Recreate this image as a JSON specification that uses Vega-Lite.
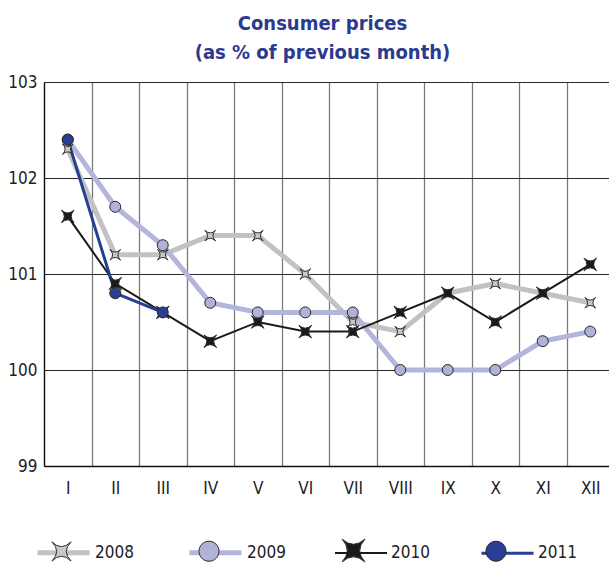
{
  "$schema": "https://vega.github.io/schema/vega-lite/v6.json",
  "width": 565,
  "height": 384,
  "autosize": {"type": "none"},
  "padding": {"left": 44, "top": 82, "right": 0, "bottom": 97},
  "background": "white",
  "config": {
    "view": {"stroke": null},
    "font": "DejaVu Sans Condensed, DejaVu Sans, sans-serif"
  },
  "title": {
    "text": ["Consumer prices", "(as % of previous month)"],
    "font": "DejaVu Sans Condensed, DejaVu Sans, sans-serif",
    "fontSize": 20,
    "fontWeight": "bold",
    "color": "#2b3a8e",
    "lineHeight": 29,
    "anchor": "middle",
    "baseline": "alphabetic",
    "frame": "group",
    "offset": -6,
    "dx": -4
  },
  "data": {
    "values": [
      {"month": "I", "year": "2008", "value": 102.3},
      {"month": "II", "year": "2008", "value": 101.2},
      {"month": "III", "year": "2008", "value": 101.2},
      {"month": "IV", "year": "2008", "value": 101.4},
      {"month": "V", "year": "2008", "value": 101.4},
      {"month": "VI", "year": "2008", "value": 101.0},
      {"month": "VII", "year": "2008", "value": 100.5},
      {"month": "VIII", "year": "2008", "value": 100.4},
      {"month": "IX", "year": "2008", "value": 100.8},
      {"month": "X", "year": "2008", "value": 100.9},
      {"month": "XI", "year": "2008", "value": 100.8},
      {"month": "XII", "year": "2008", "value": 100.7},
      {"month": "I", "year": "2009", "value": 102.4},
      {"month": "II", "year": "2009", "value": 101.7},
      {"month": "III", "year": "2009", "value": 101.3},
      {"month": "IV", "year": "2009", "value": 100.7},
      {"month": "V", "year": "2009", "value": 100.6},
      {"month": "VI", "year": "2009", "value": 100.6},
      {"month": "VII", "year": "2009", "value": 100.6},
      {"month": "VIII", "year": "2009", "value": 100.0},
      {"month": "IX", "year": "2009", "value": 100.0},
      {"month": "X", "year": "2009", "value": 100.0},
      {"month": "XI", "year": "2009", "value": 100.3},
      {"month": "XII", "year": "2009", "value": 100.4},
      {"month": "I", "year": "2010", "value": 101.6},
      {"month": "II", "year": "2010", "value": 100.9},
      {"month": "III", "year": "2010", "value": 100.6},
      {"month": "IV", "year": "2010", "value": 100.3},
      {"month": "V", "year": "2010", "value": 100.5},
      {"month": "VI", "year": "2010", "value": 100.4},
      {"month": "VII", "year": "2010", "value": 100.4},
      {"month": "VIII", "year": "2010", "value": 100.6},
      {"month": "IX", "year": "2010", "value": 100.8},
      {"month": "X", "year": "2010", "value": 100.5},
      {"month": "XI", "year": "2010", "value": 100.8},
      {"month": "XII", "year": "2010", "value": 101.1},
      {"month": "I", "year": "2011", "value": 102.4},
      {"month": "II", "year": "2011", "value": 100.8},
      {"month": "III", "year": "2011", "value": 100.6}
    ]
  },
  "encoding": {
    "x": {
      "field": "month",
      "type": "nominal",
      "sort": ["I", "II", "III", "IV", "V", "VI", "VII", "VIII", "IX", "X", "XI", "XII"],
      "bandPosition": 0.5,
      "scale": {"type": "band", "paddingInner": 0, "paddingOuter": 0, "range": [0, 570]},
      "axis": {
        "title": null,
        "tickBand": "extent",
        "grid": true,
        "gridColor": "#7a7a7a",
        "gridWidth": 1.3,
        "ticks": false,
        "domainColor": "#111",
        "domainWidth": 1.3,
        "labelAngle": 0,
        "labelFontSize": 17,
        "labelColor": "#222",
        "labelPadding": 14,
        "labelFont": "DejaVu Sans Condensed, DejaVu Sans, sans-serif"
      }
    },
    "y": {
      "field": "value",
      "type": "quantitative",
      "scale": {"domain": [99, 103], "nice": false, "zero": false},
      "axis": {
        "title": null,
        "values": [99, 100, 101, 102, 103],
        "grid": true,
        "gridColor": "#2a2a2a",
        "gridWidth": 1.1,
        "ticks": false,
        "domainColor": "#111",
        "domainWidth": 1.3,
        "labelFontSize": 17,
        "labelColor": "#222",
        "labelPadding": 7,
        "labelFont": "DejaVu Sans Condensed, DejaVu Sans, sans-serif"
      }
    }
  },
  "layer": [
    {
      "mark": {"type": "line"},
      "encoding": {
        "color": {
          "field": "year",
          "type": "nominal",
          "scale": {"domain": ["2008", "2009", "2010", "2011"], "range": ["#c2c2c2", "#b3b5da", "#1a1a1a", "#263f94"]},
          "legend": {
            "title": null,
            "orient": "none",
            "direction": "horizontal",
            "legendX": -9,
            "legendY": 442,
            "padding": 0,
            "columnPadding": 45,
            "labelOffset": 3,
            "labelFontSize": 17,
            "labelColor": "#222",
            "labelFont": "DejaVu Sans Condensed, DejaVu Sans, sans-serif",
            "symbolType": "stroke",
            "symbolSize": 2704,
            "symbolStrokeWidth": 1,
            "encode": {
              "symbols": {
                "update": {
                  "strokeWidth": {"signal": "datum.value === '2008' || datum.value === '2009' ? 5 : (datum.value === '2011' ? 3 : 2)"}
                }
              }
            }
          }
        },
        "strokeWidth": {
          "field": "year",
          "type": "nominal",
          "scale": {"type": "ordinal", "domain": ["2008", "2009", "2010", "2011"], "range": [5, 5, 2, 3]},
          "legend": null
        }
      }
    },
    {
      "mark": {"type": "point", "filled": true, "size": 816, "stroke": "#2a2a2a", "strokeWidth": 1, "opacity": 1},
      "encoding": {
        "fill": {
          "field": "year",
          "type": "nominal",
          "scale": {"range": ["#c8c8c8", "#b0b2d8", "#1a1a1a", "#2a3f94"]},
          "legend": {
            "title": null,
            "orient": "none",
            "direction": "horizontal",
            "legendX": -9,
            "legendY": 442,
            "padding": 0,
            "columnPadding": 82.5,
            "labelOffset": 3,
            "labelFontSize": 17,
            "labelExpr": "''",
            "labelFont": "DejaVu Sans Condensed, DejaVu Sans, sans-serif",
            "symbolSize": 2704,
            "symbolStrokeWidth": 1,
            "symbolStrokeColor": "#2a2a2a",
            "encode": {
              "symbols": {
                "update": {
                  "size": {"value": 2704},
                  "stroke": {"value": "#2a2a2a"},
                  "strokeWidth": {"value": 1},
                  "opacity": {"value": 1}
                }
              }
            }
          }
        },
        "shape": {
          "field": "year",
          "type": "nominal",
          "scale": {
            "range": [
              "M-1.1538,0M1.1538,0M-0.37,-0.37Q0,0 0.37,-0.37Q0,0 0.37,0.37Q0,0 -0.37,0.37Q0,0 -0.37,-0.37Z",
              "M-1.1538,0M1.1538,0M-0.385,0A0.385,0.385 0 1,0 0.385,0A0.385,0.385 0 1,0 -0.385,0Z",
              "M-1.0385,0M1.0385,0M-0.44,-0.44Q0,-0.04 0.44,-0.44Q0.04,0 0.44,0.44Q0,0.04 -0.44,0.44Q-0.04,0 -0.44,-0.44Z",
              "M-1.0769,0M1.0769,0M-0.385,0A0.385,0.385 0 1,0 0.385,0A0.385,0.385 0 1,0 -0.385,0Z"
            ]
          }
        }
      }
    }
  ]
}
